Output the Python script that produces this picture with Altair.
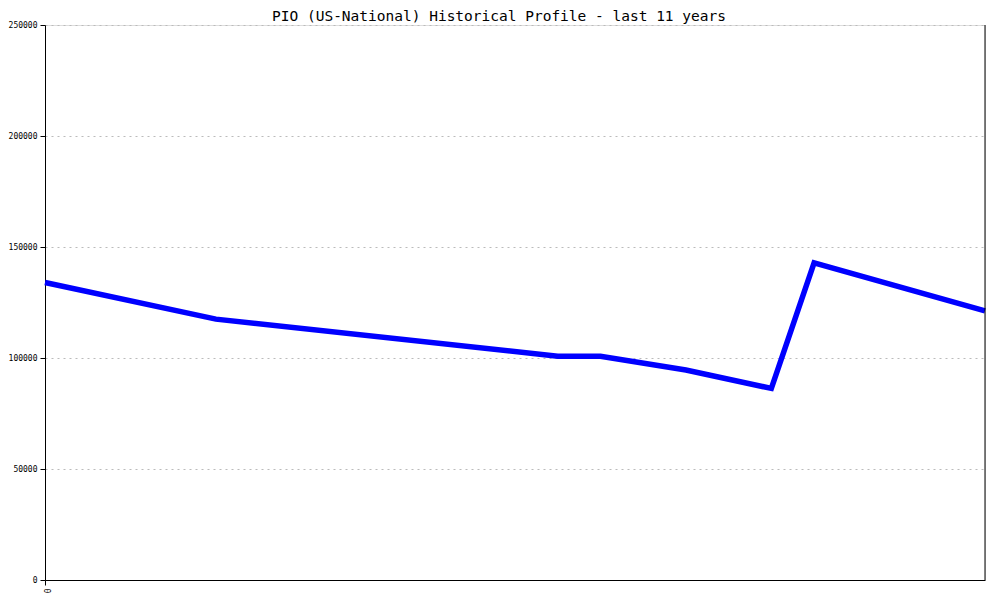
import altair as alt
import pandas as pd

# x positions in half-year steps over the 11-year window
period = [0, 4, 12, 13, 15, 17, 18, 22]
value = [134000, 117500, 100800, 100800, 94600, 86300, 142900, 121200]

df = pd.DataFrame({"period": period, "value": value})

xscale = alt.Scale(domain=[0, 22], nice=False, zero=False)
yscale = alt.Scale(domain=[0, 250000], nice=False)

font = "DejaVu Sans Mono"

line = alt.Chart(df).mark_line(color="#0000FF", strokeWidth=5.5, strokeJoin="miter").encode(
    x=alt.X("period:Q", scale=xscale,
            axis=alt.Axis(values=[0], title=None, labelAngle=90, labelFont=font,
                          labelFontSize=8, labelColor="black", domainColor="black",
                          tickColor="black", tickSize=5, grid=False, labelPadding=3,
                          labelAlign="left", labelBaseline="middle", format="d")),
    y=alt.Y("value:Q", scale=yscale,
            axis=alt.Axis(values=[0, 50000, 100000, 150000, 200000, 250000], title=None,
                          format="d",
                          labelFont=font, labelFontSize=8, labelColor="black",
                          domainColor="black", tickColor="black", tickSize=5,
                          grid=True, gridColor="#bbbbbb", gridDash=[2, 4],
                          labelPadding=3)),
)

right = alt.Chart(pd.DataFrame({"period": [22]})).mark_rule(color="black", strokeWidth=1).encode(
    x=alt.X("period:Q", scale=xscale)
)

chart = alt.layer(line, right).properties(
    width=940,
    height=555,
    title=alt.TitleParams("PIO (US-National) Historical Profile - last 11 years",
                          font=font, fontSize=14.5, fontWeight="normal", color="black",
                          anchor="middle", offset=6, dy=9, dx=-16),
    autosize=alt.AutoSizeParams(type="none"),
    padding={"left": 37, "top": 17, "right": 7, "bottom": 20},
).configure_view(stroke=None).configure(background="white")

chart.save("out.html", embed_options={"renderer": "svg", "actions": False})
